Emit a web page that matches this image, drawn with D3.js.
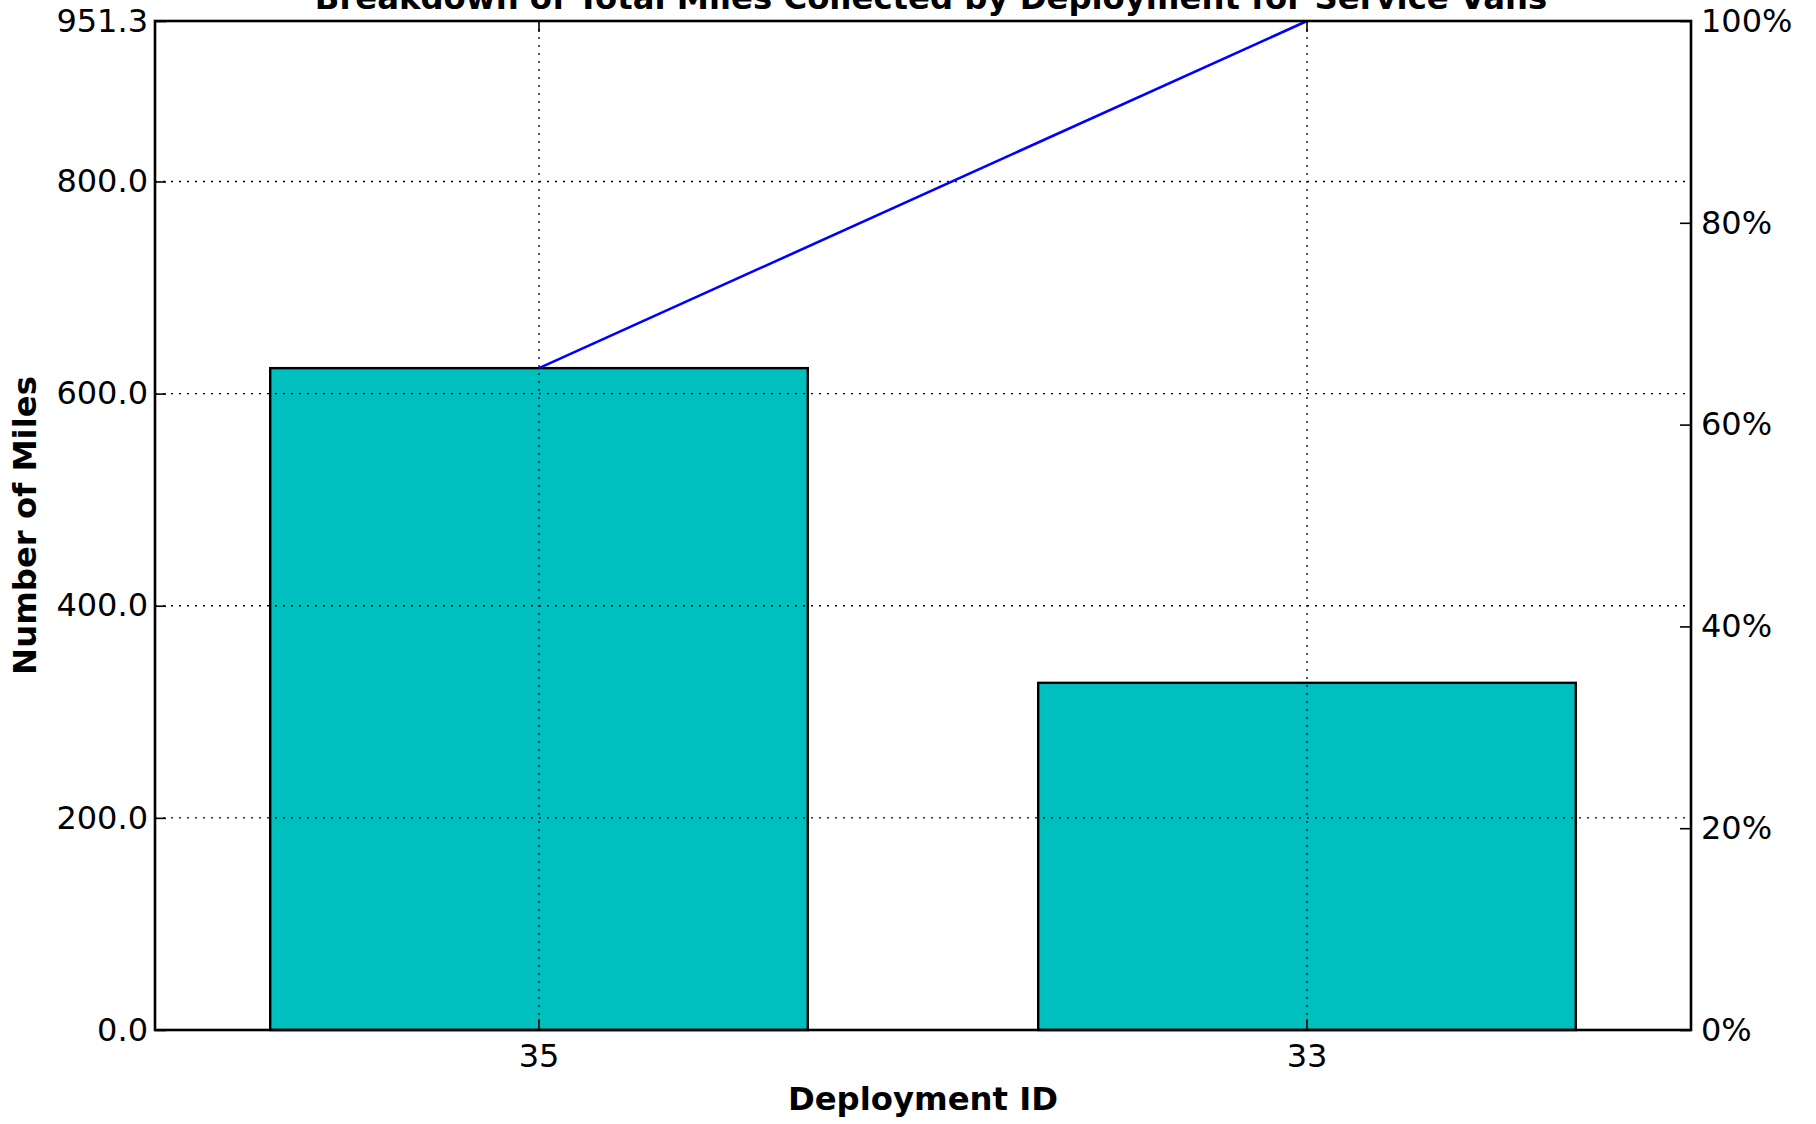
<!DOCTYPE html>
<html>
<head>
<meta charset="utf-8">
<script src="https://cdn.jsdelivr.net/npm/d3@7"></script>
<style>
  html, body { margin: 0; padding: 0; background: #ffffff; }
  svg { display: block; }
  text { font-family: "DejaVu Sans", sans-serif; fill: #000; }
</style>
</head>
<body>
<script>
// ---- data ----
const categories = ["35", "33"];
const miles = [624.0, 327.3];
const yTickValues = [0, 200, 400, 600, 800, 951.3];
const pctTickValues = [0, 20, 40, 60, 80, 100];
const titleText = "Breakdown of Total Miles Collected by Deployment for Service Vans";
const xLabelText = "Deployment ID";
const yLabelText = "Number of Miles";

// ---- layout ----
const W = 1816, H = 1124;
const L = 155, R = 1691, T = 21, B = 1030;
const tickFont = 32, labelFont = 32.3;
const tickLen = 11;

const svg = d3.select("body").append("svg").attr("width", W).attr("height", H);
svg.append("rect").attr("width", W).attr("height", H).attr("fill", "#fff");

const total = d3.sum(miles);
const yMax = yTickValues[yTickValues.length - 1];
let acc = 0;
const cumPct = miles.map(v => { acc += v; return acc / total * 100; });

const x = d3.scaleBand().domain(categories).range([L, R]).paddingInner(0.3).paddingOuter(0.15);
const y = d3.scaleLinear().domain([0, yMax]).range([B, T]);
const yp = d3.scaleLinear().domain([0, 100]).range([B, T]);

// bars
svg.append("g").selectAll("rect").data(categories).join("rect")
  .attr("x", d => x(d))
  .attr("y", (d, i) => y(miles[i]))
  .attr("width", x.bandwidth())
  .attr("height", (d, i) => y(0) - y(miles[i]))
  .attr("fill", "#00bfbf")
  .attr("stroke", "#000")
  .attr("stroke-width", 2.4);

// grid
const grid = svg.append("g").attr("stroke", "#000").attr("stroke-width", 1.3).attr("stroke-dasharray", "2,6");
grid.selectAll("line.h").data(yTickValues.filter(v => v > 0 && v < yMax)).join("line")
  .attr("x1", L).attr("x2", R).attr("y1", d => y(d)).attr("y2", d => y(d));
grid.selectAll("line.v").data(categories).join("line")
  .attr("x1", d => x(d) + x.bandwidth() / 2).attr("x2", d => x(d) + x.bandwidth() / 2)
  .attr("y1", T).attr("y2", B);

// cumulative line
const line = d3.line().x(d => x(d.c) + x.bandwidth() / 2).y(d => yp(d.p));
svg.append("path")
  .datum(categories.map((c, i) => ({ c, p: cumPct[i] })))
  .attr("d", line)
  .attr("fill", "none").attr("stroke", "#0000ff").attr("stroke-width", 2.6);

// axes (inward ticks)
const yAxis = d3.axisLeft(y).tickValues(yTickValues).tickFormat(d3.format(".1f"))
  .tickSizeInner(-tickLen).tickSizeOuter(0).tickPadding(7);
const gy = svg.append("g").attr("transform", `translate(${L},0)`).call(yAxis);

const pAxis = d3.axisRight(yp).tickValues(pctTickValues).tickFormat(d => d + "%")
  .tickSizeInner(-tickLen).tickSizeOuter(0).tickPadding(10);
const gp = svg.append("g").attr("transform", `translate(${R},0)`).call(pAxis);

const xAxis = d3.axisBottom(x).tickSizeInner(-tickLen).tickSizeOuter(0).tickPadding(14);
const gx = svg.append("g").attr("transform", `translate(0,${B})`).call(xAxis);

const xTop = d3.axisTop(x).tickSizeInner(-tickLen).tickSizeOuter(0).tickFormat("");
const gxt = svg.append("g").attr("transform", `translate(0,${T})`).call(xTop);

[gy, gp, gx, gxt].forEach(g => {
  g.select(".domain").remove();
  g.selectAll(".tick line").attr("stroke", "#000").attr("stroke-width", 1.6);
  g.selectAll(".tick text").attr("font-size", tickFont).attr("font-family", "DejaVu Sans").attr("fill", "#000");
});

// frame
svg.append("rect").attr("x", L).attr("y", T).attr("width", R - L).attr("height", B - T)
  .attr("fill", "none").attr("stroke", "#000").attr("stroke-width", 2.6);

// labels
svg.append("text").attr("x", (L + R) / 2 + 8).attr("y", 9)
  .attr("text-anchor", "middle").attr("font-weight", "bold").attr("font-size", labelFont)
  .text(titleText);
svg.append("text").attr("x", (L + R) / 2).attr("y", 1110)
  .attr("text-anchor", "middle").attr("font-weight", "bold").attr("font-size", labelFont)
  .text(xLabelText);
svg.append("text").attr("transform", `translate(36,${(T + B) / 2}) rotate(-90)`)
  .attr("text-anchor", "middle").attr("font-weight", "bold").attr("font-size", labelFont)
  .text(yLabelText);
</script>
</body>
</html>
